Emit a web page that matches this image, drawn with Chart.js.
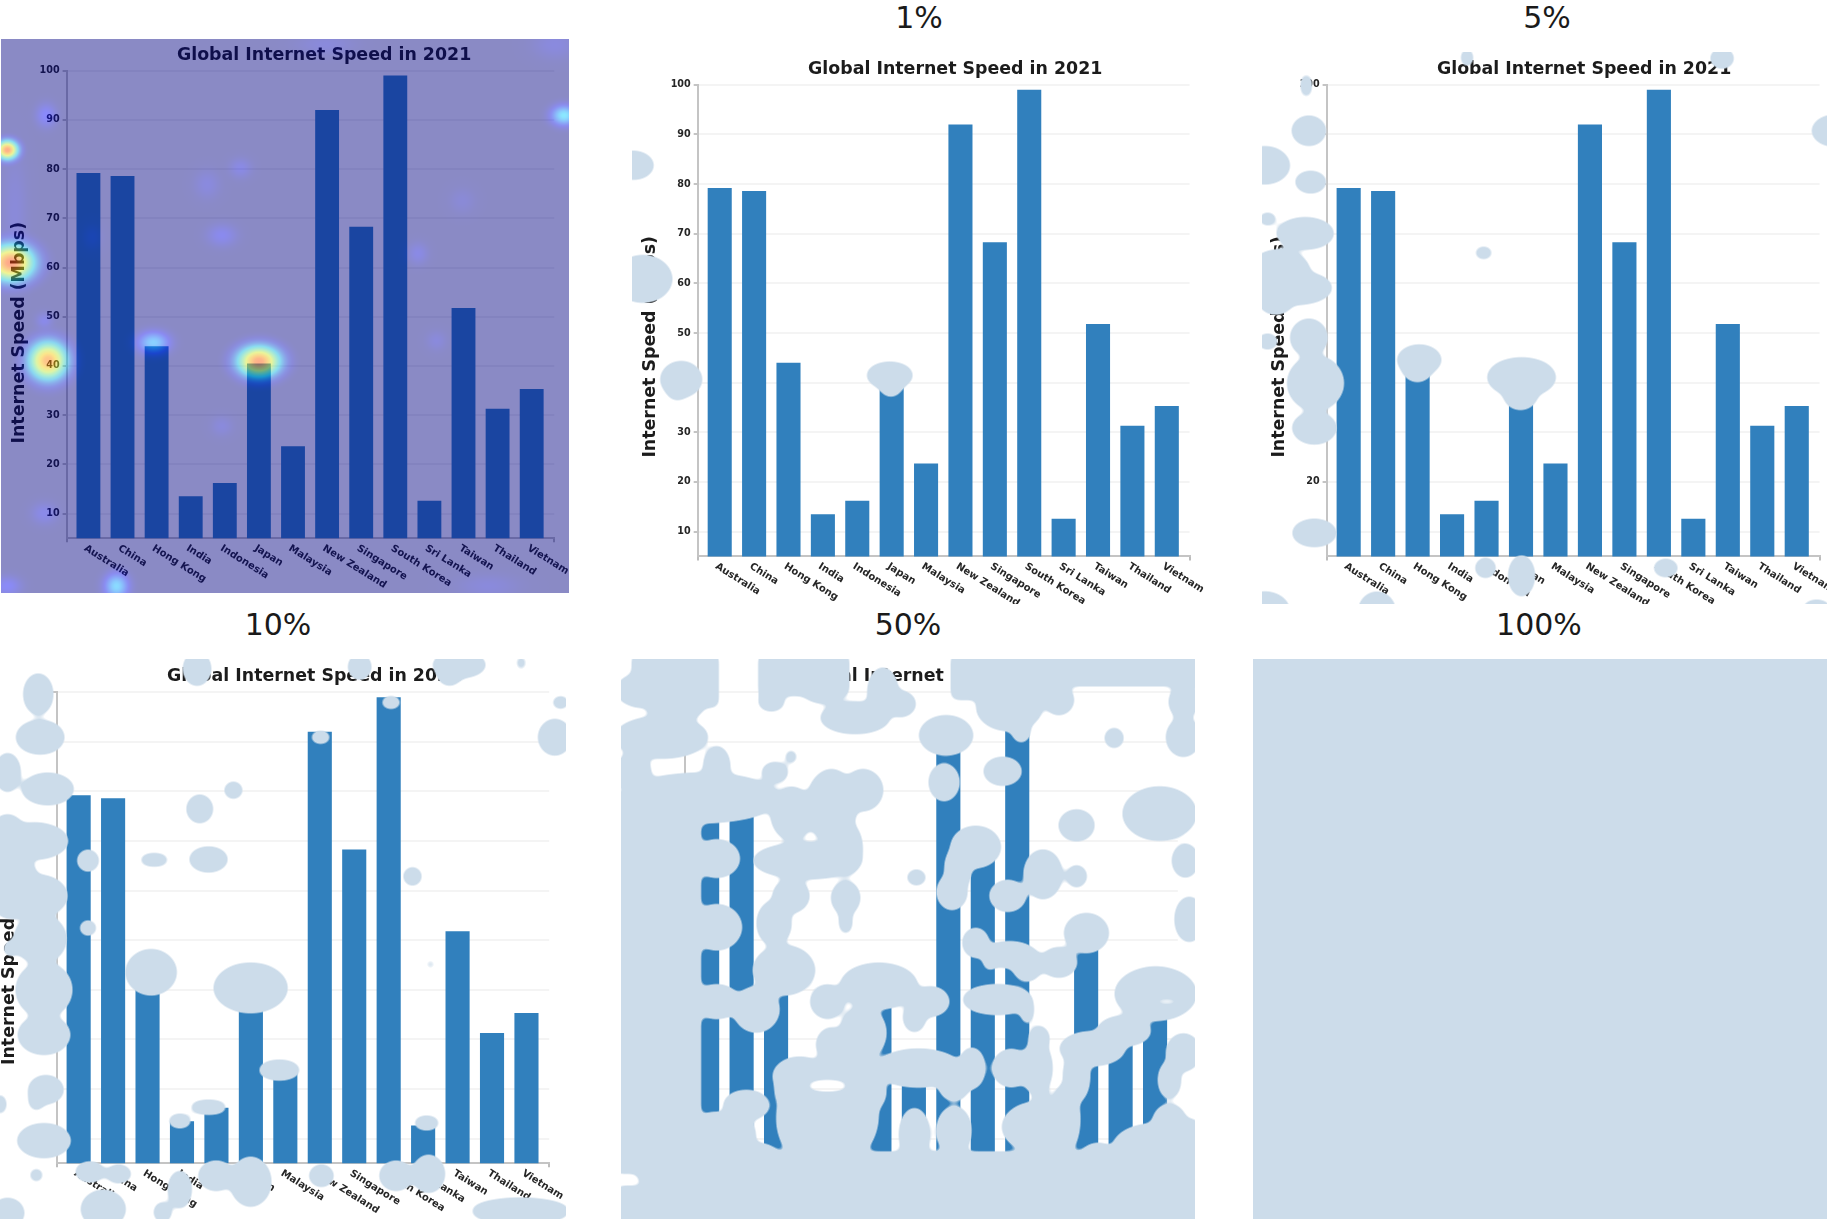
<!DOCTYPE html>
<html>
<head>
<meta charset="utf-8">
<title>Global Internet Speed in 2021</title>
<style>
  body { margin: 0; background: #fff; width: 1827px; height: 1224px; overflow: hidden; position: relative; }
  canvas { position: absolute; }
  .level { position: absolute; transform: translateX(-50%); font: 30px "DejaVu Sans"; color: #1a1a1a; line-height: 36px; white-space: nowrap; }
</style>
<script src="https://cdn.jsdelivr.net/npm/chart.js@4"></script>
</head>
<body>
<script>
const categories = ["Australia", "China", "Hong Kong", "India", "Indonesia", "Japan", "Malaysia", "New Zealand", "Singapore", "South Korea", "Sri Lanka", "Taiwan", "Thailand", "Vietnam"];
const speeds = [79.2, 78.6, 44, 13.5, 16.2, 40.5, 23.7, 92, 68.3, 99, 12.6, 51.8, 31.3, 35.3];
const yTickValues = [10, 20, 30, 40, 50, 60, 70, 80, 90, 100];
const chartTitle = "Global Internet Speed in 2021";
const yTitle = "Internet Speed (Mbps)";

const MASK_COLOR = [204, 220, 234];
const GRID_SIZE = 1568; // overlay shapes are stored on a 0..1568 grid over each panel's view box
const MASK_GROW = 8;

// saliency spots for the first panel: cx, cy, rx, ry, peak
const heatSpots = [
  [40, 500, 70, 340, 0.045], [880, 40, 160, 55, 0.05], [1500, 40, 120, 80, 0.055], [1320, 1530, 170, 65, 0.05],
  [1250, 470, 70, 70, 0.04], [560, 425, 70, 80, 0.055], [650, 380, 60, 55, 0.07], [1130, 615, 55, 60, 0.07], [1180, 855, 55, 55, 0.05],
  [250, 570, 55, 70, 0.04], [600, 1090, 60, 55, 0.05], [120, 800, 45, 45, 0.08], [600, 565, 80, 60, 0.09],
  [120, 1330, 70, 60, 0.08], [20, 1530, 75, 55, 0.11], [125, 235, 55, 65, 0.12],
  [315, 1530, 65, 70, 0.3], [415, 860, 85, 60, 0.28], [1525, 235, 70, 55, 0.33],
  [20, 330, 58, 52, 0.8], [30, 640, 125, 100, 0.82], [130, 910, 105, 105, 0.76], [700, 912, 115, 85, 0.8]
];

// mask shapes: cx, cy, rx, ry and an optional flag for a box instead of an ellipse
const mask1 = [
  [35, 425, 45, 28], [60, 717, 68, 52], [160, 975, 46, 38], [150, 1000, 22, 20], [705, 965, 52, 26], [708, 985, 24, 26]
];
const mask5 = [
  [590, 148, 8, 16], [1283, 150, 24, 18], [153, 220, 6, 24], [160, 336, 38, 30], [40, 425, 60, 40], [165, 468, 34, 20],
  [48, 563, 16, 8], [150, 600, 70, 32], [80, 700, 75, 50], [120, 740, 95, 35], [70, 770, 40, 30], [160, 868, 42, 40],
  [48, 878, 20, 12], [178, 985, 68, 62], [175, 1100, 52, 33], [175, 1370, 52, 27], [460, 925, 52, 30], [455, 940, 36, 33],
  [738, 970, 85, 42], [735, 1015, 38, 30], [635, 650, 16, 8], [640, 1460, 20, 18], [738, 1480, 27, 45], [1130, 1460, 25, 15],
  [345, 1570, 42, 40], [40, 1570, 60, 40], [1590, 336, 55, 32], [1540, 1565, 30, 15]
];
const mask10 = [
  [515, 150, 28, 35], [940, 145, 22, 25], [1200, 140, 62, 25], [1175, 160, 25, 25], [1362, 135, 3, 12],
  [100, 215, 30, 45], [105, 325, 55, 35], [20, 415, 25, 42], [125, 457, 60, 32], [1465, 236, 14, 8], [1450, 325, 35, 38],
  [610, 460, 16, 14], [522, 508, 26, 28], [230, 640, 20, 20], [403, 638, 30, 8], [545, 637, 42, 24], [1078, 680, 16, 16],
  [230, 812, 14, 12], [20, 600, 45, 70], [90, 590, 80, 38], [30, 700, 60, 80], [100, 730, 68, 45], [105, 840, 60, 55],
  [115, 970, 65, 62], [115, 1085, 60, 42], [28, 865, 10, 12], [120, 1225, 38, 28], [95, 1250, 12, 20], [115, 1355, 62, 35],
  [0, 1262, 8, 18], [395, 925, 58, 50], [655, 965, 88, 55], [730, 1175, 46, 17], [545, 1270, 40, 10], [470, 1305, 22, 10],
  [1115, 1310, 25, 10], [1125, 905, 4, 4], [838, 325, 18, 8], [1022, 236, 18, 8], [235, 1435, 30, 18], [310, 1440, 25, 15],
  [565, 1445, 38, 30], [470, 1480, 22, 40], [655, 1460, 45, 55], [840, 1445, 24, 20], [1035, 1445, 35, 30], [1120, 1440, 34, 40],
  [95, 1443, 9, 9], [270, 1530, 50, 40], [20, 1540, 35, 30], [425, 1538, 15, 18], [1360, 1535, 120, 25]
];
const mask50 = [
  [165, 180, 100, 60, 1], [165, 240, 65, 40], [60, 205, 35, 30], [130, 325, 110, 45], [60, 415, 35, 45], [270, 400, 25, 45],
  [490, 165, 105, 45, 1], [540, 200, 50, 30], [408, 235, 25, 15], [620, 275, 80, 32], [690, 210, 30, 55], [735, 240, 30, 25],
  [980, 170, 108, 50, 1], [1010, 250, 75, 50], [1040, 310, 15, 20], [1290, 155, 190, 30, 1], [1135, 230, 30, 30], [1450, 235, 28, 35],
  [1450, 325, 35, 42], [1275, 327, 16, 18], [850, 320, 60, 42], [993, 412, 40, 28], [417, 415, 25, 18], [458, 375, 6, 10],
  [120, 900, 100, 420, 1], [270, 635, 50, 40], [270, 810, 55, 50], [270, 1000, 50, 35], [230, 480, 190, 55],
  [460, 520, 45, 60], [560, 500, 55, 85], [640, 460, 42, 45], [500, 640, 130, 38], [600, 610, 30, 60],
  [458, 730, 38, 35], [415, 800, 35, 50], [596, 735, 28, 35], [596, 795, 8, 25], [1180, 550, 37, 32], [1390, 520, 85, 60],
  [1455, 640, 25, 35], [775, 683, 16, 12], [1180, 680, 18, 20], [1095, 675, 40, 55], [865, 720, 30, 38], [1006, 730, 38, 32],
  [925, 605, 55, 45], [880, 660, 25, 50], [845, 440, 30, 40], [1465, 790, 28, 50], [1205, 825, 48, 42], [925, 850, 25, 30],
  [1010, 880, 60, 25], [1055, 905, 30, 35], [960, 895, 8, 18], [1135, 900, 38, 30], [440, 920, 70, 55], [680, 960, 90, 50],
  [370, 1020, 50, 50], [550, 1000, 35, 35], [980, 995, 80, 30], [1055, 1020, 8, 30], [810, 1000, 40, 30], [770, 1040, 20, 30],
  [1380, 980, 95, 60], [640, 1080, 50, 60], [560, 1110, 30, 35], [600, 1180, 80, 50], [560, 1290, 110, 125], [500, 1300, 70, 100],
  [620, 1230, 70, 60], [470, 1220, 45, 60], [480, 1190, 60, 40],
  [780, 1170, 100, 40], [870, 1215, 30, 30], [915, 1170, 25, 45], [1015, 1170, 40, 40], [1080, 1170, 30, 60], [1085, 1095, 18, 25],
  [1220, 1120, 75, 35], [1300, 1075, 60, 30], [1180, 1190, 25, 60], [1415, 1200, 20, 40], [1450, 1130, 35, 40],
  [345, 1265, 50, 30], [300, 1340, 60, 50], [260, 1330, 25, 40], [370, 1395, 50, 25], [770, 1340, 30, 60], [870, 1330, 35, 55],
  [1080, 1320, 80, 55], [1150, 1300, 30, 80], [1090, 1240, 10, 25], [1235, 1400, 40, 30], [1380, 1370, 100, 50], [1415, 1310, 35, 40],
  [1445, 1400, 35, 90, 1], [60, 1240, 40, 190, 1], [160, 1370, 80, 70, 1], [140, 1440, 60, 40], [790, 1475, 690, 82, 1], [250, 1520, 225, 40, 1]
];
const mask50Holes = [[1408, 1000, 38, 10], [550, 1215, 55, 18]];
const mask100 = [[784, 784, 1600, 1600, 1]];

const levelLabels = [
  { text: "1%", x: 919, y: 0 },
  { text: "5%", x: 1547, y: 0 },
  { text: "10%", x: 278, y: 607 },
  { text: "50%", x: 908, y: 607 },
  { text: "100%", x: 1539, y: 607 },
];

const panels = [
  { frame: [1, 39, 569, 593], plot: [66.6, 554.2, 70.7, 538.2], view: [0, 30, 580, 570], heat: heatSpots },
  { frame: [632, 52, 1205, 604], plot: [697.7, 1189.5, 84.8, 556.4], view: [620, 0, 600, 610], mask: mask1 },
  { frame: [1262, 52, 1827, 604], plot: [1326.6, 1819.5, 84.8, 556.4], view: [1250, 0, 577, 610], mask: mask5 },
  { frame: [0, 659, 566, 1219], plot: [56.6, 549.2, 692.2, 1163.3], view: [0, 610, 600, 614], mask: mask10 },
  { frame: [621, 659, 1195, 1219], plot: [685.1, 1177.8, 692.2, 1163.3], view: [610, 610, 620, 614], mask: mask50, holes: mask50Holes },
  { frame: [1253, 659, 1827, 1219], plot: [1317, 1810, 692.2, 1163.3], view: [1230, 610, 597, 614], mask: mask100 },
];

function clamp01(v) {
  return Math.max(0, Math.min(1, v));
}

function jet(t, alpha) {
  const r = clamp01(1.5 - Math.abs(4 * t - 3));
  const g = clamp01(1.5 - Math.abs(4 * t - 2));
  const b = clamp01(1.5 - Math.abs(4 * t - 1));
  return `rgba(${Math.round(r * 255)},${Math.round(g * 255)},${Math.round(b * 255)},${alpha})`;
}

function drawLabels(chart) {
  const ctx = chart.ctx;
  const x = chart.scales.x;
  const area = chart.chartArea;
  ctx.save();
  ctx.fillStyle = "#1c1c1c";

  ctx.font = "bold 17.4px 'DejaVu Sans'";
  ctx.textAlign = "center";
  ctx.textBaseline = "middle";
  ctx.fillText(chartTitle, area.left + 257.5, area.top - 15.5);

  ctx.save();
  ctx.translate(area.left - 47, area.top + 262);
  ctx.rotate(-Math.PI / 2);
  ctx.font = "bold 17.4px 'DejaVu Sans'";
  ctx.fillText(yTitle, 0, 0);
  ctx.restore();

  // x labels hang down to the right from their bar
  ctx.font = "bold 10px 'DejaVu Sans'";
  ctx.textAlign = "left";
  ctx.textBaseline = "top";
  categories.forEach((name, i) => {
    ctx.save();
    ctx.translate(x.getPixelForValue(i) - 1, area.bottom + 5);
    ctx.rotate((32 * Math.PI) / 180);
    ctx.fillStyle = "#262626";
    ctx.fillText(name, 0, 0);
    ctx.restore();
  });
  ctx.restore();
}

function drawHeat(chart, panel) {
  const { width, height } = chart.canvas;
  const layer = document.createElement("canvas");
  layer.width = width;
  layer.height = height;
  const hctx = layer.getContext("2d");
  hctx.fillStyle = "rgb(0,0,130)";
  hctx.fillRect(0, 0, width, height);

  const [vx, vy, vw, vh] = panel.view;
  const sx = vw / GRID_SIZE;
  const sy = vh / GRID_SIZE;
  panel.heat.forEach(([cx, cy, rx, ry, peak]) => {
    hctx.save();
    hctx.translate(vx + cx * sx - panel.frame[0], vy + cy * sy - panel.frame[1]);
    hctx.scale(rx * sx, ry * sy);
    const glow = hctx.createRadialGradient(0, 0, 0, 0, 0, 1);
    for (let s = 0; s <= 1.001; s += 0.1) {
      const t = Math.max(0.01, peak * Math.exp(-3.2 * s * s));
      glow.addColorStop(Math.min(s, 1), jet(t, 1 - s * s));
    }
    hctx.fillStyle = glow;
    hctx.beginPath();
    hctx.arc(0, 0, 1, 0, Math.PI * 2);
    hctx.fill();
    hctx.restore();
  });

  const ctx = chart.ctx;
  ctx.save();
  ctx.globalAlpha = 0.46;
  ctx.drawImage(layer, 0, 0);
  ctx.restore();
}

function traceShape(ctx, panel, shape, grow) {
  const [vx, vy, vw, vh] = panel.view;
  const sx = vw / GRID_SIZE;
  const sy = vh / GRID_SIZE;
  const [cx, cy, rx, ry, box] = shape;
  const px = vx + cx * sx - panel.frame[0];
  const py = vy + cy * sy - panel.frame[1];
  const hw = (rx + grow) * sx;
  const hh = (ry + grow) * sy;
  ctx.beginPath();
  if (box) {
    ctx.rect(px - hw, py - hh, hw * 2, hh * 2);
  } else {
    ctx.ellipse(px, py, hw, hh, 0, 0, Math.PI * 2);
  }
  ctx.fill();
}

// shapes are blurred and thresholded so that overlapping ones merge into soft blobs
function drawMask(chart, panel) {
  const { width, height } = chart.canvas;
  const pad = 16;
  const shapes = document.createElement("canvas");
  shapes.width = width + pad * 2;
  shapes.height = height + pad * 2;
  const sctx = shapes.getContext("2d");
  sctx.translate(pad, pad);
  sctx.fillStyle = "#000";
  panel.mask.forEach((shape) => traceShape(sctx, panel, shape, MASK_GROW));
  sctx.globalCompositeOperation = "destination-out";
  (panel.holes || []).forEach((shape) => traceShape(sctx, panel, shape, 0));

  const layer = document.createElement("canvas");
  layer.width = width;
  layer.height = height;
  const lctx = layer.getContext("2d");
  lctx.filter = "blur(4px)";
  lctx.drawImage(shapes, -pad, -pad);
  lctx.filter = "none";
  const pixels = lctx.getImageData(0, 0, width, height);
  const d = pixels.data;
  for (let i = 0; i < d.length; i += 4) {
    d[i] = MASK_COLOR[0];
    d[i + 1] = MASK_COLOR[1];
    d[i + 2] = MASK_COLOR[2];
    d[i + 3] = Math.round(255 * clamp01((d[i + 3] - 85) / 40));
  }
  lctx.putImageData(pixels, 0, 0);
  chart.ctx.drawImage(layer, 0, 0);
}

const panelOverlay = {
  id: "panelOverlay",
  afterDraw(chart, args, options) {
    const panel = options.panel;
    drawLabels(chart);
    if (panel.heat) drawHeat(chart, panel);
    if (panel.mask) drawMask(chart, panel);
  },
};

function buildPanel(panel) {
  const [left, top, right, bottom] = panel.frame;
  const [plotLeft, plotRight, plotTop, plotBottom] = panel.plot;
  const canvas = document.createElement("canvas");
  canvas.width = right - left;
  canvas.height = bottom - top;
  canvas.style.left = left + "px";
  canvas.style.top = top + "px";
  document.body.appendChild(canvas);

  new Chart(canvas, {
    type: "bar",
    data: {
      datasets: [
        {
          data: speeds.map((v, i) => ({ x: i, y: v })),
          backgroundColor: "#3180bd",
          borderWidth: 0,
          barPercentage: 0.7,
          categoryPercentage: 1,
        },
      ],
    },
    plugins: [panelOverlay],
    options: {
      responsive: false,
      animation: false,
      events: [],
      layout: { padding: { left: 0, top: plotTop - top, right: right - plotRight, bottom: 0 } },
      plugins: {
        legend: { display: false },
        tooltip: { enabled: false },
        panelOverlay: { panel },
      },
      scales: {
        x: {
          type: "linear",
          offset: false,
          min: -0.64,
          max: 13.66,
          grid: { offset: false, drawOnChartArea: false, tickLength: 4, color: "#bdbdbd", lineWidth: 2 },
          border: { color: "#c4c4c4", width: 2 },
          ticks: { display: false },
          afterBuildTicks(scale) {
            scale.ticks = [{ value: scale.min }, { value: scale.max }];
          },
          afterFit(scale) {
            scale.height = bottom - plotBottom;
          },
        },
        y: {
          min: 5,
          max: 100,
          grid: { color: "#f4f4f4", lineWidth: 2, tickLength: 4, tickColor: "#c4c4c4" },
          border: { color: "#c4c4c4", width: 2 },
          ticks: {
            autoSkip: false,
            padding: 3,
            color: "#262626",
            font: { family: "'DejaVu Sans'", size: 9.6, weight: "bold" },
          },
          afterBuildTicks(scale) {
            scale.ticks = yTickValues.map((value) => ({ value }));
          },
          afterFit(scale) {
            scale.width = plotLeft - left;
          },
        },
      },
    },
  });
}

panels.forEach(buildPanel);

levelLabels.forEach((label) => {
  const div = document.createElement("div");
  div.className = "level";
  div.textContent = label.text;
  div.style.left = label.x + "px";
  div.style.top = label.y + "px";
  document.body.appendChild(div);
});
</script>
</body>
</html>
